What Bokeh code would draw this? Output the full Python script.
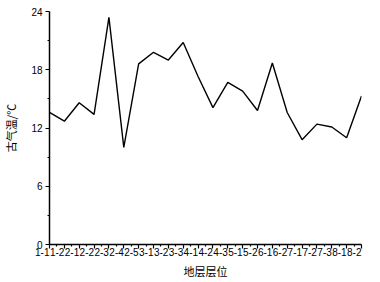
from bokeh.plotting import figure
from bokeh.models import FixedTicker, Range1d
from bokeh.embed import file_html
from bokeh.resources import INLINE

layers = ["1-1", "1-2", "2-1", "2-2", "2-3", "2-4", "2-5", "3-1", "3-2", "3-3", "4-1",
          "4-2", "4-3", "5-1", "5-2", "6-1", "6-2", "7-1", "7-2", "7-3", "8-1", "8-2"]
temps = [13.6, 12.7, 14.6, 13.4, 23.4, 10.0, 18.6, 19.8, 19.0, 20.8, 17.3,
         14.1, 16.7, 15.8, 13.8, 18.7, 13.6, 10.8, 12.4, 12.1, 11.0, 15.3]
y_ticks = [0, 6, 12, 18, 24]

xs = list(range(len(layers)))

p = figure(width=372, height=281, output_backend="svg", toolbar_location=None,
           x_range=Range1d(0, len(layers) - 1), y_range=Range1d(0, 24),
           min_border_left=39, min_border_right=11, min_border_top=11, min_border_bottom=32)
p.outline_line_color = None
p.xgrid.visible = False
p.ygrid.visible = False
p.background_fill_color = "white"
p.border_fill_color = "white"

p.line(xs, temps, line_color="black", line_width=1.4)

xa = p.xaxis[0]
xa.ticker = FixedTicker(ticks=xs, minor_ticks=[i + 0.5 for i in xs[:-1]])
xa.major_label_overrides = {i: lab for i, lab in enumerate(layers)}
xa.axis_label = "地层层位"
ya = p.yaxis[0]
ya.ticker = FixedTicker(ticks=y_ticks, minor_ticks=[3, 9, 15, 21])
ya.axis_label = "古气温/℃"

for ax in (xa, ya):
    ax.axis_line_color = "black"
    ax.axis_line_width = 1.5
    ax.major_tick_line_color = "black"
    ax.major_tick_line_width = 1.2
    ax.minor_tick_line_color = "black"
    ax.minor_tick_line_width = 1.2
    ax.major_tick_out = 4
    ax.major_tick_in = 0
    ax.minor_tick_out = 2
    ax.minor_tick_in = 0
    ax.major_label_text_font = "Liberation Sans"
    ax.major_label_text_font_size = "10px"
    ax.major_label_text_color = "black"
    ax.major_label_standoff = 3
    ax.axis_label_text_font = "Noto Sans CJK SC"
    ax.axis_label_text_font_size = "11px"
    ax.axis_label_text_font_style = "normal"
    ax.axis_label_text_color = "black"
    ax.axis_label_standoff = 0

xa.major_label_orientation = 0
ya.major_label_orientation = "horizontal"
ya.axis_label_standoff = 9

open("out.html", "w").write(file_html(p, INLINE))
